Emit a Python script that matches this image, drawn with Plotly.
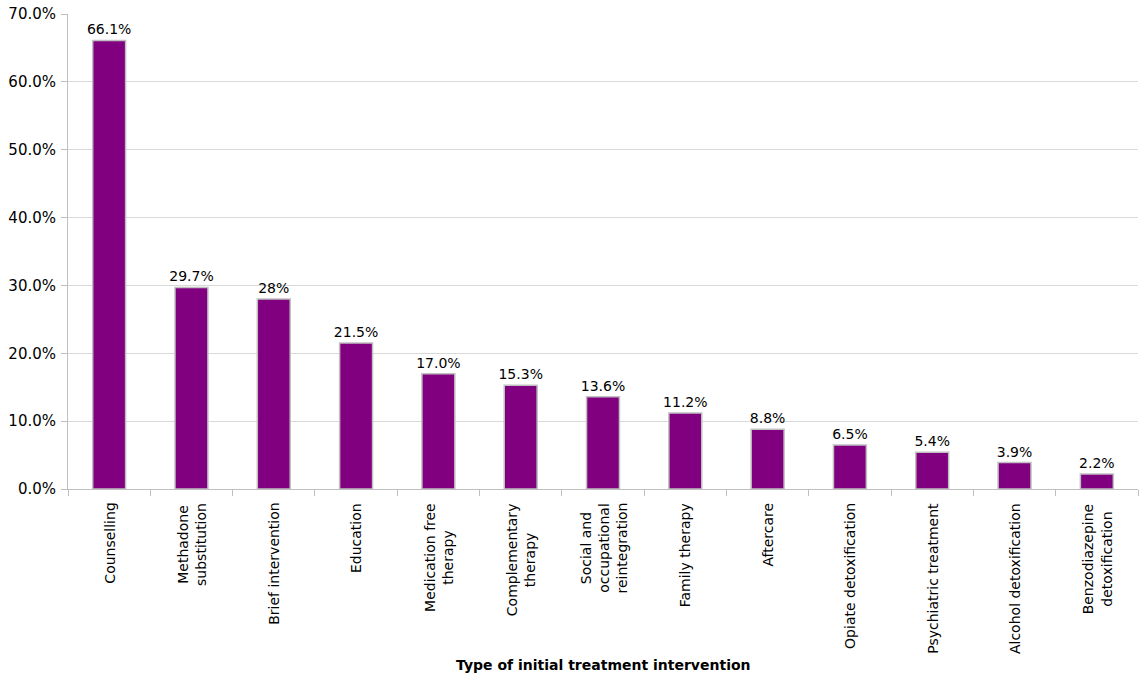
import plotly.graph_objects as go

# Share of clients by type of initial treatment intervention
categories = [
    "Counselling",
    "Methadone<br>substitution",
    "Brief intervention",
    "Education",
    "Medication free<br>therapy",
    "Complementary<br>therapy",
    "Social and<br>occupational<br>reintegration",
    "Family therapy",
    "Aftercare",
    "Opiate detoxification",
    "Psychiatric treatment",
    "Alcohol detoxification",
    "Benzodiazepine<br>detoxification",
]
values = [66.1, 29.7, 28.0, 21.5, 17.0, 15.3, 13.6, 11.2, 8.8, 6.5, 5.4, 3.9, 2.2]
value_labels = ["66.1%", "29.7%", "28%", "21.5%", "17.0%", "15.3%", "13.6%",
                "11.2%", "8.8%", "6.5%", "5.4%", "3.9%", "2.2%"]
y_ticks = [0, 10, 20, 30, 40, 50, 60, 70]
y_tick_labels = ["0.0%", "10.0%", "20.0%", "30.0%", "40.0%", "50.0%", "60.0%", "70.0%"]
x_title = "Type of initial treatment intervention"

FONT = "DejaVu Sans"

fig = go.Figure(
    go.Bar(
        x=categories,
        y=values,
        text=value_labels,
        textposition="outside",
        constraintext="none",
        textfont=dict(family=FONT, size=14, color="#000000"),
        cliponaxis=False,
        width=0.4,
        marker=dict(color="#800080", line=dict(color="#c0c0c0", width=1.5)),
    )
)

# Rotated category labels with centred lines, hanging just below the axis
for cat in categories:
    fig.add_annotation(
        x=cat,
        y=0,
        xref="x",
        yref="y",
        text=cat,
        textangle=-90,
        align="center",
        xanchor="center",
        yanchor="top",
        yshift=-12,
        showarrow=False,
        font=dict(family=FONT, size=14, color="#000000"),
    )

fig.add_annotation(
    x=0.5,
    y=0,
    xref="paper",
    yref="paper",
    yshift=-176,
    yanchor="middle",
    text="<b>" + x_title + "</b>",
    showarrow=False,
    font=dict(family=FONT, size=14, color="#000000"),
)

fig.update_layout(
    width=1139,
    height=679,
    margin=dict(l=68, r=1, t=14, b=190),
    paper_bgcolor="white",
    plot_bgcolor="white",
    showlegend=False,
    font=dict(family=FONT, size=14, color="#000000"),
    xaxis=dict(
        tickson="boundaries",
        ticks="outside",
        ticklen=6,
        tickcolor="#bfbfbf",
        showline=True,
        linecolor="#bfbfbf",
        linewidth=1,
        showticklabels=False,
    ),
    yaxis=dict(
        range=[0, 70],
        tickvals=y_ticks,
        ticktext=y_tick_labels,
        ticks="outside",
        ticklen=6,
        tickcolor="#bfbfbf",
        showline=True,
        linecolor="#bfbfbf",
        linewidth=1,
        showgrid=True,
        gridcolor="#d9d9d9",
        gridwidth=1,
        zeroline=False,
        ticklabelstandoff=2,
        tickfont=dict(family=FONT, size=15),
    ),
    bargap=0.6,
)

fig.write_html("out.html")
